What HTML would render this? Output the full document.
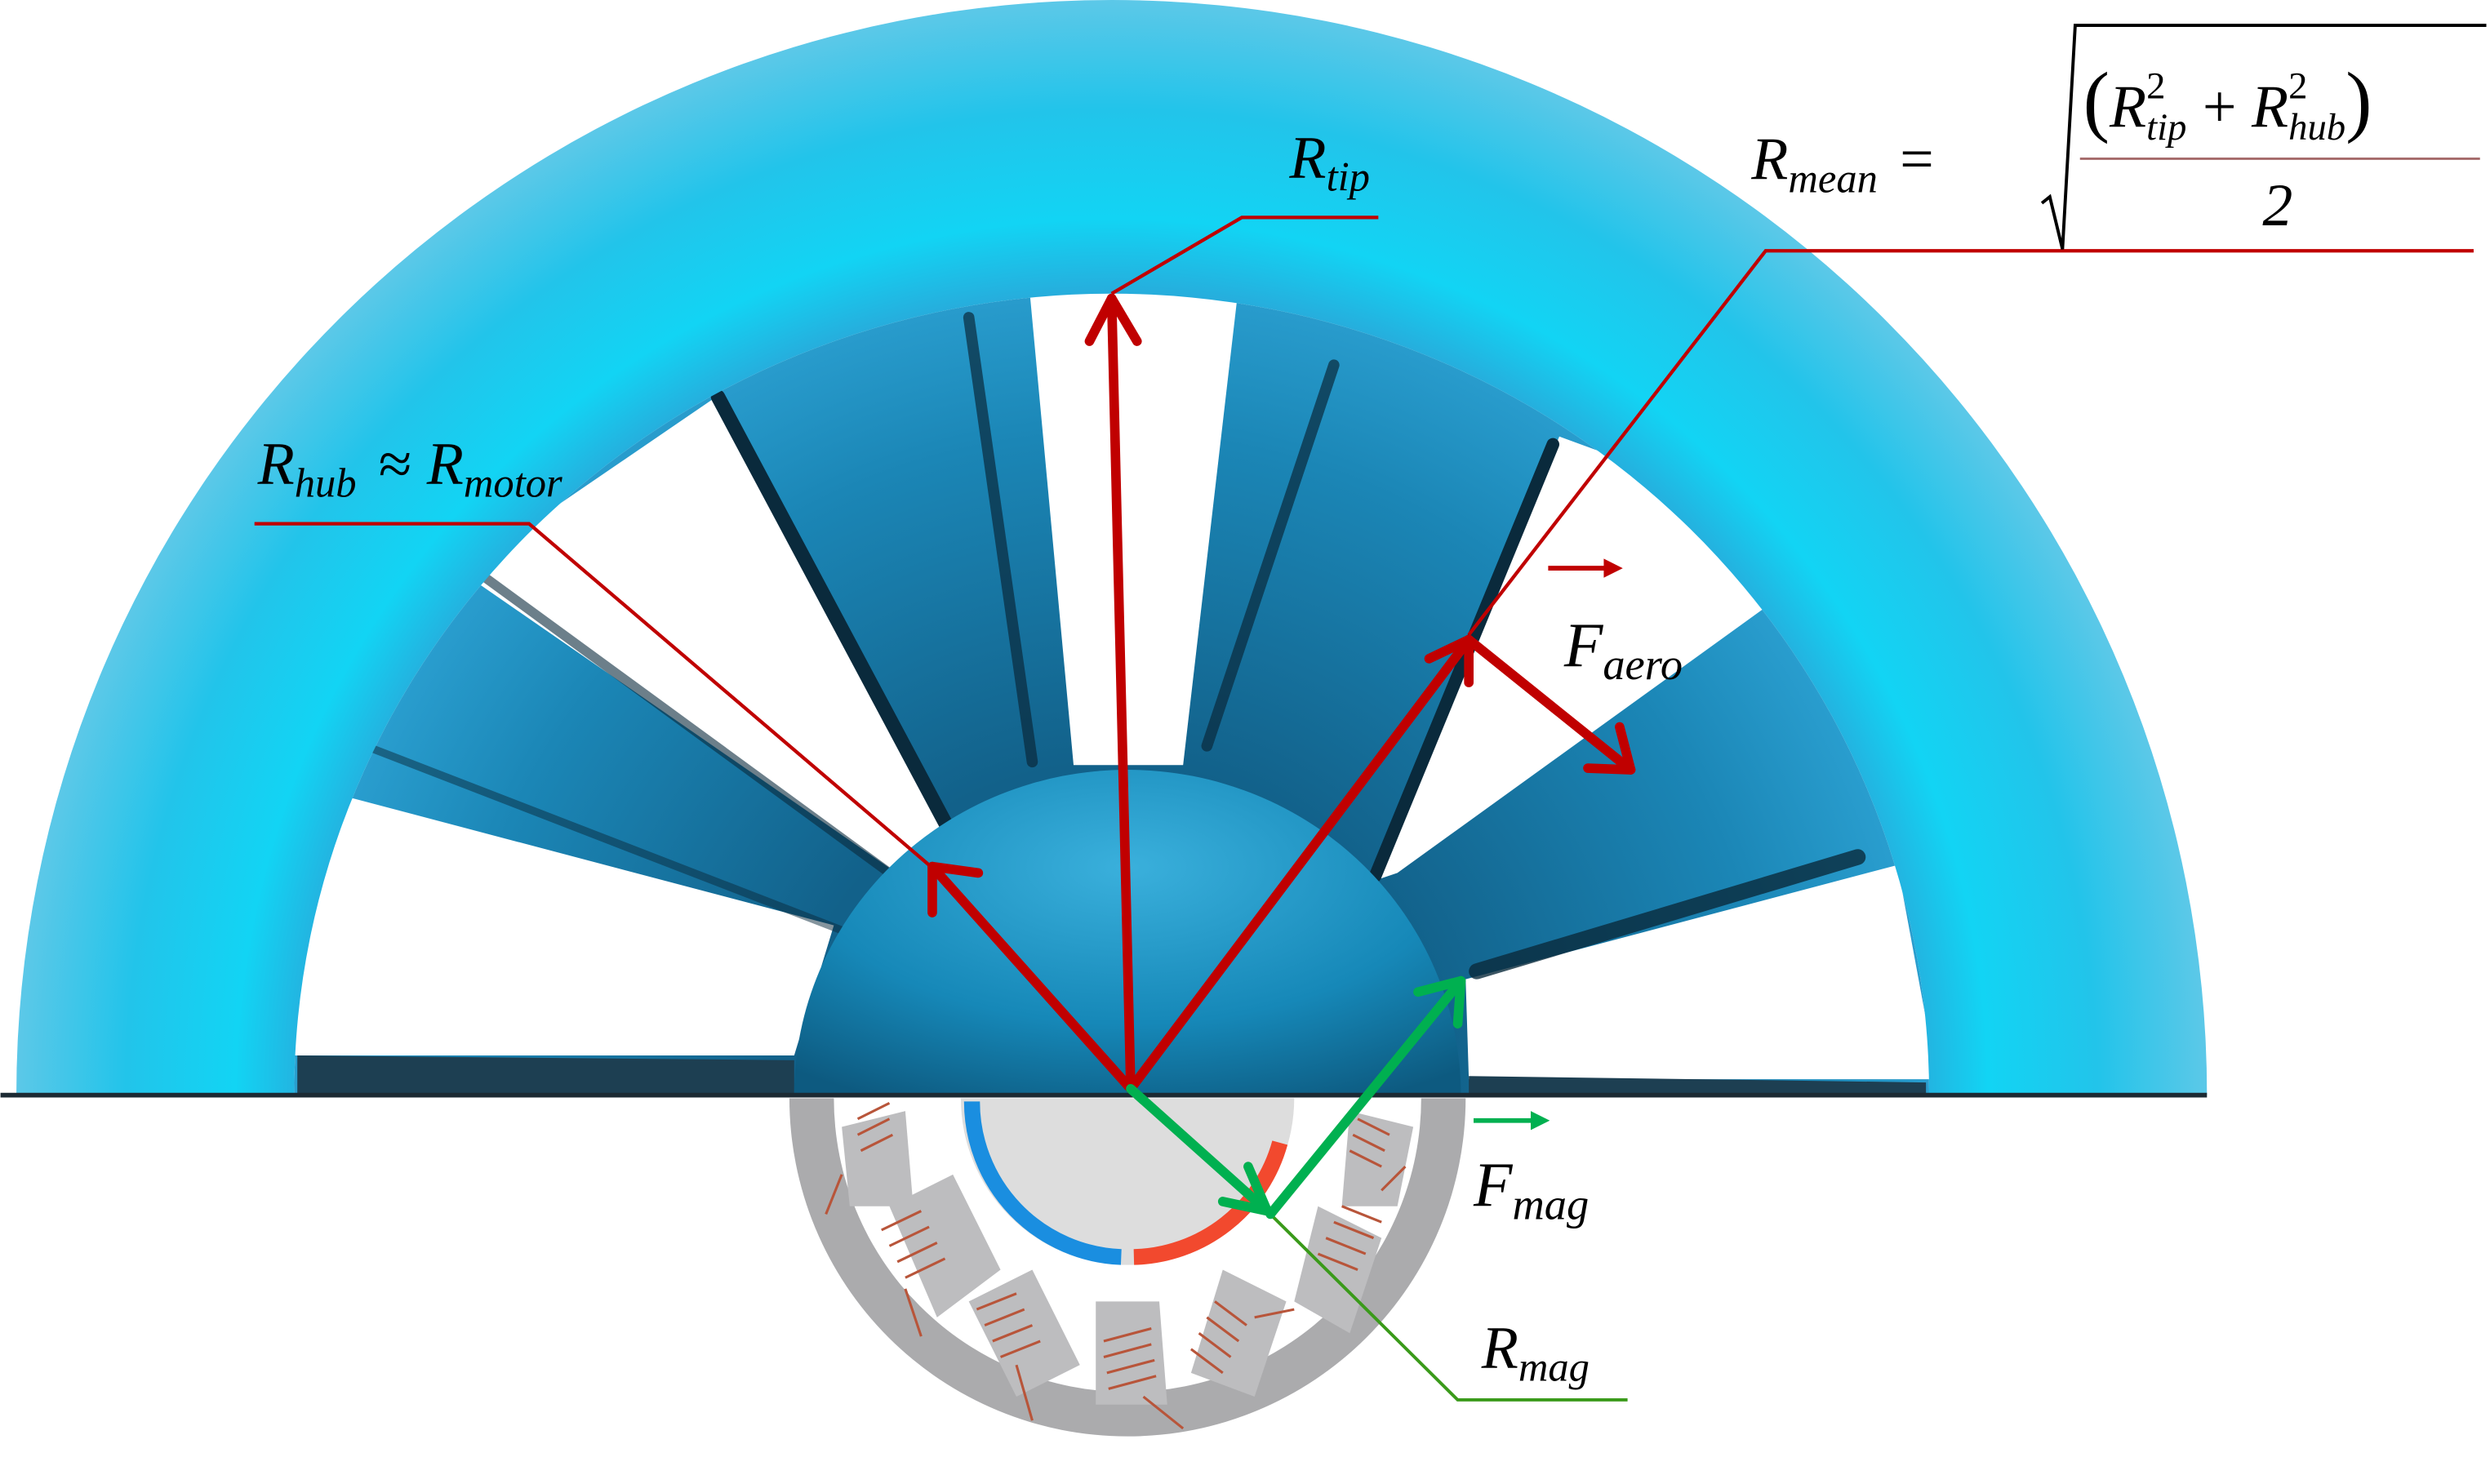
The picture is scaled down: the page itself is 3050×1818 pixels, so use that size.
<!DOCTYPE html>
<html><head><meta charset="utf-8"><style>
html,body{margin:0;padding:0;background:#fff;}
svg{display:block;}
text{font-family:"Liberation Serif",serif;font-style:italic;fill:#000;}
</style></head><body>
<svg width="3050" height="1818" viewBox="0 0 1568 935" xmlns="http://www.w3.org/2000/svg">
<defs>
<radialGradient id="ring" cx="700" cy="690" r="690" gradientUnits="userSpaceOnUse">
<stop offset="0.72" stop-color="#2aa6d8"/><stop offset="0.8" stop-color="#12d4f4"/><stop offset="0.9" stop-color="#22c4ea"/><stop offset="1" stop-color="#5cc8e8"/>
</radialGradient>
<radialGradient id="hub" cx="0.5" cy="0.3" r="0.8">
<stop offset="0" stop-color="#3ab0dc"/><stop offset="0.6" stop-color="#1688b8"/><stop offset="1" stop-color="#0d5a80"/>
</radialGradient>
<radialGradient id="bl" cx="700" cy="690" r="520" gradientUnits="userSpaceOnUse">
<stop offset="0.4" stop-color="#12618a"/><stop offset="0.8" stop-color="#1b86b6"/><stop offset="1" stop-color="#2a9fd0"/>
</radialGradient>
</defs>
<path d="M185,690 A515,505 0 0 1 1215,690 Z" fill="url(#bl)"/>
<g fill="#fff">
<polygon points="648,180 700,175 780,180 745,482 676,482"/>
<polygon points="290,360 448,252 593,521 566,551"/>
<polygon points="180,520 222,503 525,583 500,665 180,665"/>
<polygon points="982,275 1050,300 1110,384 880,550 868,554"/>
<polygon points="923,617 1195,545 1220,680 925,680"/>
</g>
<g stroke="#0a2a3c" fill="none" stroke-linecap="round">
<line x1="452" y1="250" x2="596" y2="520" stroke-width="9"/>
<line x1="300" y1="360" x2="560" y2="550" stroke-width="6" opacity="0.6"/>
<line x1="610" y1="200" x2="650" y2="480" stroke-width="7" opacity="0.7"/>
<line x1="840" y1="230" x2="760" y2="470" stroke-width="7" opacity="0.7"/>
<line x1="978" y1="280" x2="866" y2="552" stroke-width="8"/>
<line x1="1170" y1="540" x2="930" y2="612" stroke-width="10" opacity="0.8"/>
<line x1="230" y1="470" x2="540" y2="590" stroke-width="5" opacity="0.5"/>
</g>
<polygon points="187,665 500,668 500,690 187,690" fill="#1d3f52"/>
<polygon points="925,678 1213,682 1213,690 925,690" fill="#1d3f52"/>
<path d="M10,690 A690,690 0 0 1 1390,690 L1215,690 A515,505 0 0 0 185,690 Z" fill="url(#ring)"/>
<path d="M500,690 A210,205 0 0 1 920,690 Z" fill="url(#hub)"/>
<line x1="0" y1="690" x2="1390" y2="690" stroke="#1c2a33" stroke-width="3"/>
<path d="M497,692 A213,213 0 0 0 923,692 Z" fill="#ababad"/>
<path d="M525,692 A185,185 0 0 0 895,692 Z" fill="#fff"/>
<g fill="#bdbdbf">
<polygon points="560,760 600,740 630,800 590,830"/>
<polygon points="610,820 650,800 680,860 640,880"/>
<polygon points="690,820 730,820 735,885 690,885"/>
<polygon points="770,800 810,820 790,880 750,865"/>
<polygon points="830,760 870,780 850,840 815,820"/>
<polygon points="530,710 570,700 575,760 535,760"/>
<polygon points="850,700 890,710 880,760 845,760"/>
</g>
<g stroke="#b8553a" stroke-width="1.6" fill="none">
<path d="M540,705 l20,-10 M540,715 l20,-10 M542,725 l20,-10 M530,740 l-10,25"/>
<path d="M555,775 l25,-12 M560,785 l25,-12 M565,795 l25,-12 M570,805 l25,-12 M570,812 l10,30"/>
<path d="M615,825 l25,-10 M620,835 l25,-10 M625,845 l25,-10 M630,855 l25,-10 M640,860 l10,35"/>
<path d="M695,845 l30,-8 M695,855 l30,-8 M697,865 l30,-8 M698,875 l30,-8 M720,880 l25,20"/>
<path d="M765,820 l20,15 M760,830 l20,15 M755,840 l20,15 M750,850 l20,15 M790,830 l25,-5"/>
<path d="M845,760 l25,10 M840,770 l25,10 M835,780 l25,10 M830,790 l25,10 M870,750 l15,-15"/>
<path d="M855,705 l20,10 M852,715 l20,10 M850,725 l20,10"/>
</g>
<path d="M605,692 A105,105 0 0 0 815,692 Z" fill="#dddddd"/>
<path d="M612,694 A98,98 0 0 0 706,792" stroke="#1a8ee0" stroke-width="10" fill="none"/>
<path d="M714,792 A98,98 0 0 0 806,720" stroke="#f2492e" stroke-width="10" fill="none"/>
<g stroke="#c00000" stroke-width="2.2" fill="none">
<polyline points="700,185 782,137 868,137"/>
<polyline points="925,400 1112,158 1558,158"/>
<polyline points="585,545 333,330 160,330"/>
</g>
<line x1="1310" y1="100" x2="1562" y2="100" stroke="#a56a6a" stroke-width="1.5"/>
<path d="M1286,128 L1291,124 L1299,157 L1307,16 L1566,16" stroke="#000" stroke-width="2" fill="none"/>
<polyline points="800,765 918,882 1025,882" stroke="#3a9a1a" stroke-width="2" fill="none"/>
<g stroke="#c00000" stroke-width="6" fill="none" stroke-linecap="round" stroke-linejoin="round">
<line x1="712" y1="686" x2="700" y2="188"/><polyline points="686,215 700,188 716,215"/>
<line x1="712" y1="686" x2="587" y2="546"/><polyline points="587,575 587,546 616,550"/>
<line x1="712" y1="686" x2="925" y2="403"/><polyline points="900,415 925,403 925,430"/>
<line x1="925" y1="403" x2="1027" y2="485"/><polyline points="1000,484 1027,485 1020,458"/>
</g>
<g stroke="#00b050" stroke-width="6" fill="none" stroke-linecap="round" stroke-linejoin="round">
<line x1="712" y1="686" x2="798" y2="763"/><polyline points="786,735 798,763 770,757"/>
<line x1="800" y1="765" x2="920" y2="618"/><polyline points="893,625 920,618 918,645"/>
</g>
<g stroke-width="3">
<line x1="975" y1="358" x2="1012" y2="358" stroke="#c00000"/><polygon points="1022,358 1010,352 1010,364" fill="#c00000"/>
<line x1="928" y1="706" x2="965" y2="706" stroke="#00b050"/><polygon points="976,706 964,700 964,712" fill="#00b050"/>
</g>
<text x="812" y="112" font-size="38">R<tspan font-size="26" dy="8">tip</tspan></text>
<text x="1103" y="113" font-size="38">R<tspan font-size="26" dy="8">mean</tspan><tspan dy="-8" font-style="normal" dx="14">=</tspan></text>
<text x="1312" y="80" font-size="38"><tspan font-style="normal" font-size="50">(</tspan>R<tspan font-size="24" dy="-18" font-style="normal">2</tspan><tspan font-size="24" dx="-12" dy="26">tip</tspan><tspan dy="-8" font-style="normal" dx="10">+ </tspan>R<tspan font-size="24" dy="-18" font-style="normal">2</tspan><tspan font-size="24" dx="-12" dy="26">hub</tspan><tspan dy="-8" font-style="normal" font-size="50">)</tspan></text>
<text x="1425" y="142" font-size="38" font-style="normal">2</text>
<text x="162" y="305" font-size="38">R<tspan font-size="26" dy="8">hub</tspan><tspan dy="-8" font-style="normal" dx="14">≈ </tspan>R<tspan font-size="26" dy="8">motor</tspan></text>
<text x="985" y="420" font-size="40">F<tspan font-size="28" dy="8">aero</tspan></text>
<text x="928" y="760" font-size="40">F<tspan font-size="28" dy="8">mag</tspan></text>
<text x="933" y="862" font-size="38">R<tspan font-size="26" dy="8">mag</tspan></text>
</svg>
</body></html>
